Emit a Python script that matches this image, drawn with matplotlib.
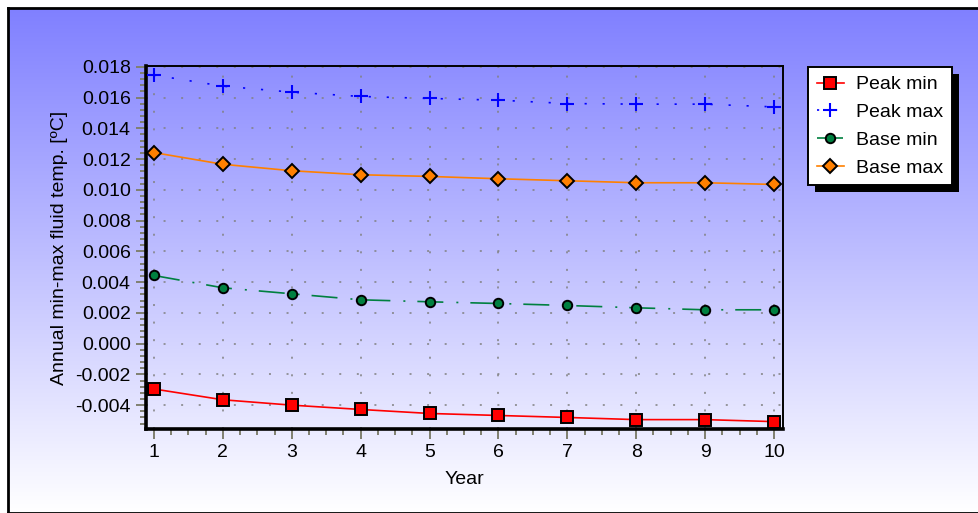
"""
Annual min-max fluid temperature per year, recreated with matplotlib
"""
import matplotlib
matplotlib.use("Agg")
import matplotlib.pyplot as plt
import numpy as np
from matplotlib.patches import Rectangle
from matplotlib.ticker import MultipleLocator, FuncFormatter

plt.rcParams['font.family'] = ['Liberation Sans', 'DejaVu Sans']

years = [1, 2, 3, 4, 5, 6, 7, 8, 9, 10]
peak_min = [-0.00295, -0.00365, -0.0040, -0.00428, -0.00454, -0.00467, -0.00480, -0.00494, -0.00494, -0.00507]
peak_max = [0.01746, 0.01674, 0.01635, 0.01607, 0.01594, 0.01583, 0.01561, 0.01557, 0.01557, 0.01539]
base_min = [0.00443, 0.00363, 0.00324, 0.00285, 0.00272, 0.00261, 0.00248, 0.00233, 0.00220, 0.00220]
base_max = [0.01242, 0.01166, 0.01124, 0.01098, 0.01087, 0.01072, 0.01059, 0.01046, 0.01046, 0.01035]

W, H = 979, 513
fs = 14
fig = plt.figure(figsize=(W / 100, H / 100), dpi=100)
fig.patch.set_facecolor("white")

# gradient background inside the black frame
bg = fig.add_axes([8 / W, 0, 1 - 8 / W, (H - 8) / H], zorder=-10)
t = np.linspace(0, 1, 256)[:, None]
top = np.array([128, 128, 255]) / 255
bot = np.array([255, 255, 255]) / 255
grad = top[None, None, :] * (1 - t[:, :, None]) + bot[None, None, :] * t[:, :, None]
bg.imshow(grad, aspect="auto", extent=[0, 1, 0, 1])
bg.set_xticks([])
bg.set_yticks([])
for s in bg.spines.values():
    s.set_linewidth(2.0)
    s.set_color("black")

ax = fig.add_axes([146 / W, (H - 429) / H, (783 - 146) / W, (429 - 66) / H])
ax.patch.set_alpha(0)

lw = 1.2
ax.plot(years, peak_min, color="#ff0000", lw=lw, marker="s", ms=9,
        mfc="#ff0000", mec="black", mew=1.4, label="Peak min", zorder=5)
ax.plot(years, peak_max, color="#0000ff", lw=lw, linestyle=(0, (1.3, 9.5)),
        marker="+", ms=10, mew=1.5, label="Peak max", zorder=5)
ax.plot(years, base_min, color="#008040", lw=lw, linestyle=(0, (15.6, 7.8, 1.2, 7.2)),
        marker="o", ms=6.8, mfc="#008040", mec="black", mew=1.4, label="Base min", zorder=5)
ax.plot(years, base_max, color="#ff8000", lw=lw, marker="D", ms=6.8,
        mfc="#ff8000", mec="black", mew=1.4, label="Base max", zorder=5)

ax.set_xlim(0.884, 10.13)
ax.set_ylim(-0.00555, 0.01805)
ax.xaxis.set_major_locator(MultipleLocator(1))
ax.xaxis.set_minor_locator(MultipleLocator(0.25))
ax.yaxis.set_major_locator(MultipleLocator(0.002))
ax.yaxis.set_minor_locator(MultipleLocator(0.0004))
ax.yaxis.set_major_formatter(FuncFormatter(lambda v, p: "%.3f" % v if abs(v) > 1e-9 else "0.000"))

ax.tick_params(which="major", direction="out", length=7, width=1.4, color="#808070",
               labelsize=fs, labelcolor="black", pad=4)
ax.tick_params(which="minor", direction="out", length=4, width=1.4, color="#808070")
ax.tick_params(top=False, right=False, which="both")

ax.grid(True, which="major", color="#808080", lw=1.1, linestyle=(0, (1.3, 10.2)))

ax.spines["left"].set_linewidth(2.6)
ax.spines["bottom"].set_linewidth(2.6)
ax.spines["top"].set_linewidth(1.4)
ax.spines["right"].set_linewidth(1.4)

ax.set_xlabel("Year", fontsize=fs, labelpad=7)
ax.set_ylabel("Annual min-max fluid temp. [ºC]", fontsize=fs, labelpad=5)

leg = fig.legend(loc="upper left", bbox_to_anchor=(808 / W, (H - 67) / H),
                 bbox_transform=fig.transFigure, fontsize=fs, frameon=True,
                 fancybox=False, edgecolor="black", facecolor="white",
                 framealpha=1, handlelength=1.4, handletextpad=0.6,
                 labelspacing=0.52, borderpad=0.45, borderaxespad=0)
leg.get_frame().set_linewidth(1.4)
leg.set_zorder(20)

# solid black drop shadow behind the legend
fig.canvas.draw()
bb = leg.get_window_extent().transformed(fig.transFigure.inverted())
sh = Rectangle((bb.x0 + 7 / W, bb.y0 - 7 / H), bb.width, bb.height,
               transform=fig.transFigure, facecolor="black", edgecolor="none", zorder=19)
fig.patches.append(sh)

fig.savefig("out.png", dpi=100)
